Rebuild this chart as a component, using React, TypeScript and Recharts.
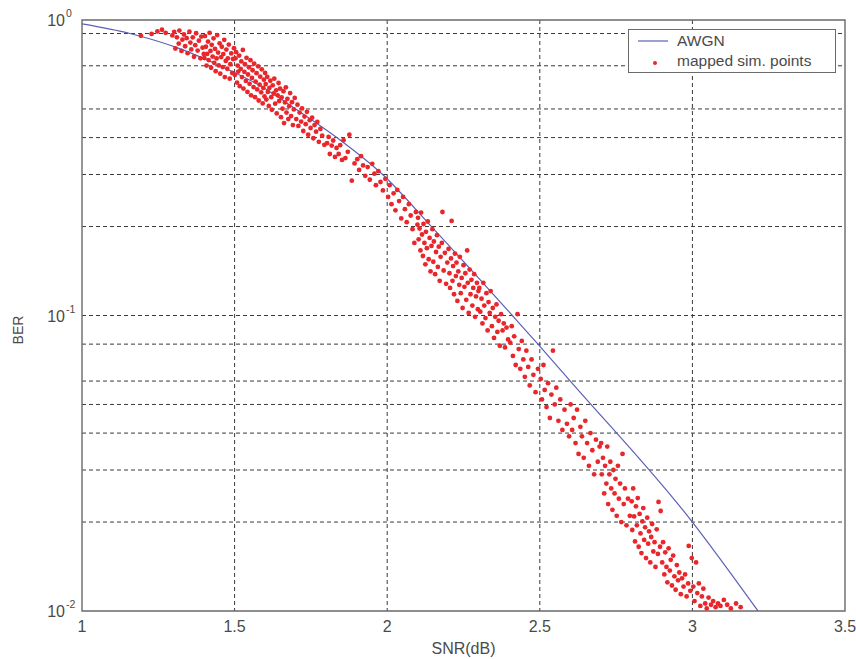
import React from 'react';
import { ComposedChart, Line, Scatter, XAxis, YAxis, CartesianGrid, ReferenceArea } from 'recharts';

// Theoretical AWGN BER curve: [SNR (dB), BER]
const awgnCurve: [number, number][] = [
  [1.0, 0.97], [1.157, 0.9], [1.32, 0.8], [1.452, 0.7], [1.583, 0.6], [1.7, 0.5],
  [1.835, 0.4], [1.985, 0.3], [2.145, 0.2], [2.41, 0.1], [2.494, 0.08], [2.6, 0.06],
  [3.0, 0.02], [3.215, 0.01],
];

// Mapped simulation points: [SNR (dB), BER]
const simPoints: [number, number][] = [
  [1.193, 0.884], [1.228, 0.897], [1.247, 0.915], [1.262, 0.927], [1.274, 0.905], [1.296, 0.887],
  [1.302, 0.912], [1.306, 0.801], [1.311, 0.874], [1.317, 0.832], [1.319, 0.921], [1.326, 0.786],
  [1.329, 0.858], [1.334, 0.893], [1.338, 0.815], [1.343, 0.868], [1.346, 0.772], [1.352, 0.913],
  [1.355, 0.839], [1.358, 0.795], [1.363, 0.874], [1.367, 0.751], [1.371, 0.822], [1.374, 0.902],
  [1.379, 0.788], [1.383, 0.851], [1.388, 0.742], [1.391, 0.879], [1.395, 0.806], [1.399, 0.768],
  [1.401, 0.743], [1.403, 0.882], [1.406, 0.812], [1.408, 0.701], [1.41, 0.768], [1.413, 0.845],
  [1.415, 0.732], [1.418, 0.905], [1.421, 0.786], [1.423, 0.689], [1.425, 0.824], [1.428, 0.752],
  [1.431, 0.867], [1.433, 0.716], [1.436, 0.798], [1.438, 0.671], [1.441, 0.741], [1.443, 0.889],
  [1.446, 0.776], [1.448, 0.702], [1.451, 0.834], [1.453, 0.658], [1.456, 0.749], [1.458, 0.812],
  [1.461, 0.693], [1.463, 0.767], [1.466, 0.857], [1.468, 0.641], [1.471, 0.727], [1.473, 0.794],
  [1.476, 0.684], [1.478, 0.742], [1.481, 0.826], [1.484, 0.633], [1.486, 0.709], [1.489, 0.771],
  [1.492, 0.662], [1.495, 0.738], [1.498, 0.803],
  [1.501, 0.652], [1.503, 0.742], [1.505, 0.778], [1.508, 0.614], [1.51, 0.701], [1.512, 0.669],
  [1.515, 0.758], [1.517, 0.597], [1.52, 0.683], [1.522, 0.724], [1.524, 0.641], [1.527, 0.792],
  [1.529, 0.586], [1.532, 0.668], [1.534, 0.709], [1.537, 0.622], [1.539, 0.745], [1.542, 0.571],
  [1.544, 0.654], [1.547, 0.692], [1.549, 0.608], [1.552, 0.731], [1.554, 0.556], [1.557, 0.637],
  [1.559, 0.676], [1.562, 0.593], [1.564, 0.712], [1.567, 0.548], [1.569, 0.619], [1.572, 0.661],
  [1.574, 0.582], [1.577, 0.697], [1.579, 0.534], [1.582, 0.604], [1.584, 0.643], [1.587, 0.569],
  [1.589, 0.681], [1.592, 0.522], [1.594, 0.589], [1.596, 0.628], [1.598, 0.551], [1.6, 0.662],
  [1.602, 0.607], [1.604, 0.538], [1.607, 0.642], [1.609, 0.571], [1.612, 0.512], [1.614, 0.589],
  [1.617, 0.623], [1.62, 0.548], [1.622, 0.497], [1.625, 0.601], [1.628, 0.564], [1.63, 0.633],
  [1.633, 0.521], [1.636, 0.578], [1.638, 0.483], [1.641, 0.556], [1.644, 0.612], [1.646, 0.532],
  [1.649, 0.586], [1.652, 0.469], [1.654, 0.547], [1.657, 0.501], [1.66, 0.574], [1.662, 0.448],
  [1.665, 0.526], [1.668, 0.592], [1.67, 0.486], [1.673, 0.541], [1.676, 0.462], [1.679, 0.511],
  [1.682, 0.566], [1.685, 0.473], [1.688, 0.527], [1.691, 0.441], [1.694, 0.498], [1.697, 0.545],
  [1.702, 0.462], [1.706, 0.517], [1.709, 0.438], [1.713, 0.486], [1.718, 0.453], [1.721, 0.502],
  [1.725, 0.421], [1.729, 0.471], [1.733, 0.444], [1.737, 0.489], [1.741, 0.409], [1.746, 0.458],
  [1.749, 0.431], [1.754, 0.467], [1.758, 0.398], [1.762, 0.441], [1.767, 0.419], [1.771, 0.452],
  [1.776, 0.387], [1.781, 0.428], [1.787, 0.406], [1.794, 0.378],
  [1.803, 0.383], [1.808, 0.402], [1.812, 0.352], [1.818, 0.376], [1.823, 0.391], [1.829, 0.344],
  [1.834, 0.369], [1.841, 0.352], [1.846, 0.377], [1.852, 0.336], [1.857, 0.392], [1.863, 0.341],
  [1.871, 0.358], [1.876, 0.409], [1.884, 0.286], [1.893, 0.327],
  [1.902, 0.338], [1.908, 0.311], [1.914, 0.346], [1.921, 0.322], [1.928, 0.297], [1.936, 0.318],
  [1.943, 0.288], [1.951, 0.326], [1.958, 0.302], [1.963, 0.276], [1.971, 0.308], [1.978, 0.283],
  [1.986, 0.265], [1.994, 0.29],
  [2.003, 0.252], [2.008, 0.276], [2.014, 0.238], [2.021, 0.259], [2.027, 0.227], [2.033, 0.266],
  [2.039, 0.244], [2.046, 0.213], [2.052, 0.252], [2.058, 0.229], [2.064, 0.207], [2.071, 0.238],
  [2.077, 0.218], [2.083, 0.196], [2.089, 0.176], [2.094, 0.224], [2.099, 0.203],
  [2.101, 0.214], [2.103, 0.181], [2.106, 0.197], [2.109, 0.166], [2.111, 0.223], [2.114, 0.188],
  [2.117, 0.159], [2.119, 0.204], [2.122, 0.176], [2.125, 0.149], [2.127, 0.192], [2.13, 0.169],
  [2.133, 0.208], [2.136, 0.155], [2.139, 0.183], [2.142, 0.141], [2.145, 0.172], [2.148, 0.196],
  [2.151, 0.152], [2.153, 0.178], [2.157, 0.138], [2.16, 0.164], [2.163, 0.187], [2.166, 0.146],
  [2.169, 0.171], [2.172, 0.131], [2.175, 0.158], [2.179, 0.176], [2.181, 0.224], [2.185, 0.142],
  [2.189, 0.163], [2.193, 0.128], [2.197, 0.151],
  [2.201, 0.168], [2.204, 0.139], [2.206, 0.124], [2.209, 0.156], [2.211, 0.209], [2.214, 0.131],
  [2.216, 0.147], [2.219, 0.118], [2.222, 0.162], [2.225, 0.136], [2.227, 0.151], [2.23, 0.112],
  [2.233, 0.141], [2.236, 0.127], [2.238, 0.158], [2.241, 0.119], [2.244, 0.134], [2.247, 0.106],
  [2.25, 0.148], [2.253, 0.125], [2.256, 0.139], [2.259, 0.113], [2.262, 0.166], [2.264, 0.129],
  [2.267, 0.102], [2.27, 0.143], [2.273, 0.118], [2.276, 0.132], [2.279, 0.108], [2.282, 0.124],
  [2.285, 0.138], [2.288, 0.099], [2.291, 0.116], [2.294, 0.129], [2.297, 0.105], [2.299, 0.121],
  [2.302, 0.124], [2.305, 0.103], [2.309, 0.114], [2.312, 0.094], [2.315, 0.129], [2.318, 0.108],
  [2.322, 0.098], [2.325, 0.119], [2.329, 0.089], [2.332, 0.111], [2.336, 0.102], [2.339, 0.121],
  [2.343, 0.092], [2.346, 0.106], [2.35, 0.084], [2.354, 0.099], [2.358, 0.109], [2.361, 0.088],
  [2.365, 0.096], [2.369, 0.079], [2.373, 0.101], [2.378, 0.089], [2.382, 0.094], [2.386, 0.078],
  [2.391, 0.091], [2.396, 0.083],
  [2.403, 0.081], [2.408, 0.092], [2.412, 0.073], [2.416, 0.085], [2.421, 0.068], [2.427, 0.101],
  [2.431, 0.077], [2.436, 0.066], [2.441, 0.082], [2.446, 0.071], [2.451, 0.062], [2.456, 0.076],
  [2.462, 0.067], [2.467, 0.058], [2.473, 0.071], [2.479, 0.063], [2.486, 0.055], [2.494, 0.066],
  [2.503, 0.061], [2.507, 0.052], [2.512, 0.068], [2.516, 0.056], [2.522, 0.049], [2.527, 0.059],
  [2.533, 0.045], [2.538, 0.054], [2.543, 0.076], [2.549, 0.05], [2.554, 0.057], [2.561, 0.044],
  [2.567, 0.052], [2.574, 0.041], [2.581, 0.048], [2.589, 0.043], [2.596, 0.039],
  [2.601, 0.05], [2.606, 0.041], [2.611, 0.045], [2.617, 0.037], [2.622, 0.048], [2.627, 0.034],
  [2.633, 0.042], [2.638, 0.039], [2.644, 0.033], [2.649, 0.044], [2.655, 0.037], [2.661, 0.031],
  [2.666, 0.04], [2.672, 0.035], [2.678, 0.029], [2.684, 0.038], [2.69, 0.032], [2.696, 0.036],
  [2.701, 0.037], [2.703, 0.029], [2.707, 0.033], [2.711, 0.025], [2.714, 0.031], [2.718, 0.027],
  [2.721, 0.036], [2.724, 0.023], [2.728, 0.029], [2.731, 0.032], [2.734, 0.026], [2.738, 0.022],
  [2.741, 0.03], [2.745, 0.025], [2.748, 0.028], [2.752, 0.021], [2.756, 0.031], [2.759, 0.024],
  [2.763, 0.027], [2.767, 0.02], [2.771, 0.034], [2.775, 0.023], [2.779, 0.026], [2.784, 0.0195],
  [2.789, 0.024], [2.795, 0.021],
  [2.801, 0.0235], [2.803, 0.0188], [2.806, 0.026], [2.809, 0.0209], [2.812, 0.0172], [2.815, 0.0226],
  [2.818, 0.0195], [2.821, 0.0241], [2.824, 0.0165], [2.827, 0.0213], [2.83, 0.0183], [2.833, 0.0157],
  [2.836, 0.0201], [2.839, 0.0223], [2.842, 0.0174], [2.845, 0.0192], [2.848, 0.0151], [2.852, 0.0207],
  [2.855, 0.0169], [2.858, 0.0186], [2.862, 0.0146], [2.865, 0.0178], [2.868, 0.0197], [2.872, 0.0159],
  [2.876, 0.0171], [2.879, 0.0141], [2.883, 0.0189], [2.887, 0.0156], [2.889, 0.0234], [2.894, 0.0165],
  [2.896, 0.0218],
  [2.901, 0.0146], [2.904, 0.0171], [2.908, 0.0133], [2.911, 0.0158], [2.915, 0.0141], [2.918, 0.0125],
  [2.922, 0.0163], [2.926, 0.0137], [2.929, 0.0149], [2.933, 0.0122], [2.937, 0.0154], [2.941, 0.0131],
  [2.945, 0.0118], [2.949, 0.0143], [2.953, 0.0127], [2.957, 0.0135], [2.962, 0.0114], [2.966, 0.0129],
  [2.971, 0.0121], [2.976, 0.0133], [2.981, 0.0112], [2.986, 0.0124], [2.988, 0.0166], [2.993, 0.0117],
  [2.998, 0.0151],
  [3.003, 0.0121], [3.007, 0.0108], [3.012, 0.0146], [3.016, 0.0115], [3.021, 0.0124], [3.026, 0.0104],
  [3.031, 0.0112], [3.036, 0.0119], [3.042, 0.0106], [3.047, 0.0102], [3.053, 0.0111], [3.061, 0.0105],
  [3.068, 0.0108], [3.076, 0.0103], [3.084, 0.0106], [3.092, 0.0104],
  [3.103, 0.0109], [3.114, 0.0105], [3.126, 0.0102], [3.143, 0.0106], [3.158, 0.0103],
];

const xTicks = [1, 1.5, 2, 2.5, 3, 3.5];
const yTicks = [0.01, 0.1, 1];
const xGridLines = [1.5, 2, 2.5, 3];
const yGridLines = [
  0.02, 0.03, 0.04, 0.05, 0.06, 0.07, 0.08, 0.09, 0.1,
  0.2, 0.3, 0.4, 0.5, 0.6, 0.7, 0.8, 0.9,
];

const awgnData = awgnCurve.map(([snr, ber]) => ({ snr, ber }));
const simData = simPoints.map(([snr, ber]) => ({ snr, ber }));

const FONT = '"Liberation Sans", Arial, Helvetica, sans-serif';
const TEXT = '#4a4a4a';
const AXIS = '#6a6a6a';
const GRID = '#3a3a3a';
const BLUE = '#5b60b4';
const RED = '#e8262b';

const W = 856;
const H = 659;

function XTick(props: any) {
  const { x, y, payload } = props;
  return (
    <text x={x} y={y + 21} textAnchor="middle" fontFamily={FONT} fontSize={16} fill={TEXT}>
      {String(payload.value)}
    </text>
  );
}

function YTick(props: any) {
  const { x, y, payload } = props;
  const exp = Math.round(Math.log10(payload.value));
  return (
    <g>
      <text x={x - 17} y={y + 6} textAnchor="end" fontFamily={FONT} fontSize={16} fill={TEXT}>
        10
      </text>
      <text x={x - 16} y={y - 3} textAnchor="start" fontFamily={FONT} fontSize={10.5} fill={TEXT}>
        {String(exp)}
      </text>
    </g>
  );
}

function Dot(props: any) {
  const { cx, cy } = props;
  if (cx == null || cy == null) return null;
  return <circle cx={cx} cy={cy} r={2.4} fill={RED} />;
}

function Legend() {
  return (
    <div
      style={{
        position: 'absolute',
        left: 628,
        top: 29,
        width: 208,
        height: 44,
        border: `1px solid ${AXIS}`,
        background: '#fff',
        fontFamily: FONT,
        fontSize: 15.5,
        color: TEXT,
        boxSizing: 'border-box',
      }}
    >
      <svg width={50} height={44} style={{ position: 'absolute', left: 0, top: 0 }}>
        <line x1={9} x2={39} y1={11} y2={11} stroke={BLUE} strokeWidth={1.2} />
        <circle cx={26} cy={33} r={2} fill={RED} />
      </svg>
      <div style={{ position: 'absolute', left: 48, top: 2, lineHeight: '18px', whiteSpace: 'nowrap' }}>AWGN</div>
      <div style={{ position: 'absolute', left: 48, top: 22, lineHeight: '18px', whiteSpace: 'nowrap' }}>
        mapped sim. points
      </div>
    </div>
  );
}

export default function App() {
  return (
    <div style={{ position: 'fixed', left: 0, top: 0, width: W, height: H, background: '#fff' }}>
      <ComposedChart
        width={W}
        height={H}
        margin={{ top: 20, right: 11, bottom: 8, left: 22 }}
        style={{ fontFamily: FONT }}
      >
        <CartesianGrid
          horizontal
          vertical
          horizontalValues={yGridLines}
          verticalValues={xGridLines}
          stroke={GRID}
          strokeDasharray="4 3"
          strokeWidth={1}
        />
        <XAxis
          type="number"
          dataKey="snr"
          domain={[1, 3.5]}
          ticks={xTicks}
          allowDataOverflow
          axisLine={false}
          tickLine={false}
          tickSize={0}
          tickMargin={0}
          height={40}
          tick={<XTick />}
          label={() => (
            <text x={463.5} y={654} textAnchor="middle" fontFamily={FONT} fontSize={16} fill={TEXT}>
              SNR(dB)
            </text>
          )}
        />
        <YAxis
          type="number"
          dataKey="ber"
          scale="log"
          domain={[0.01, 1]}
          ticks={yTicks}
          allowDataOverflow
          axisLine={false}
          tickLine={false}
          tickSize={0}
          tickMargin={0}
          width={60}
          tick={<YTick />}
          label={() => (
            <text
              x={18}
              y={330}
              transform="rotate(-90 18 330)"
              textAnchor="middle"
              dominantBaseline="central"
              fontFamily={FONT}
              fontSize={14}
              fill={TEXT}
            >
              BER
            </text>
          )}
        />
        <ReferenceArea x1={1} x2={3.5} y1={0.01} y2={1} fill="none" stroke={AXIS} strokeWidth={1.4} ifOverflow="visible" />
        <Scatter data={simData} dataKey="ber" shape={<Dot />} isAnimationActive={false} />
        <Line
          data={awgnData}
          dataKey="ber"
          type="monotone"
          stroke={BLUE}
          strokeWidth={1.2}
          dot={false}
          activeDot={false}
          isAnimationActive={false}
        />
      </ComposedChart>
      <Legend />
    </div>
  );
}
